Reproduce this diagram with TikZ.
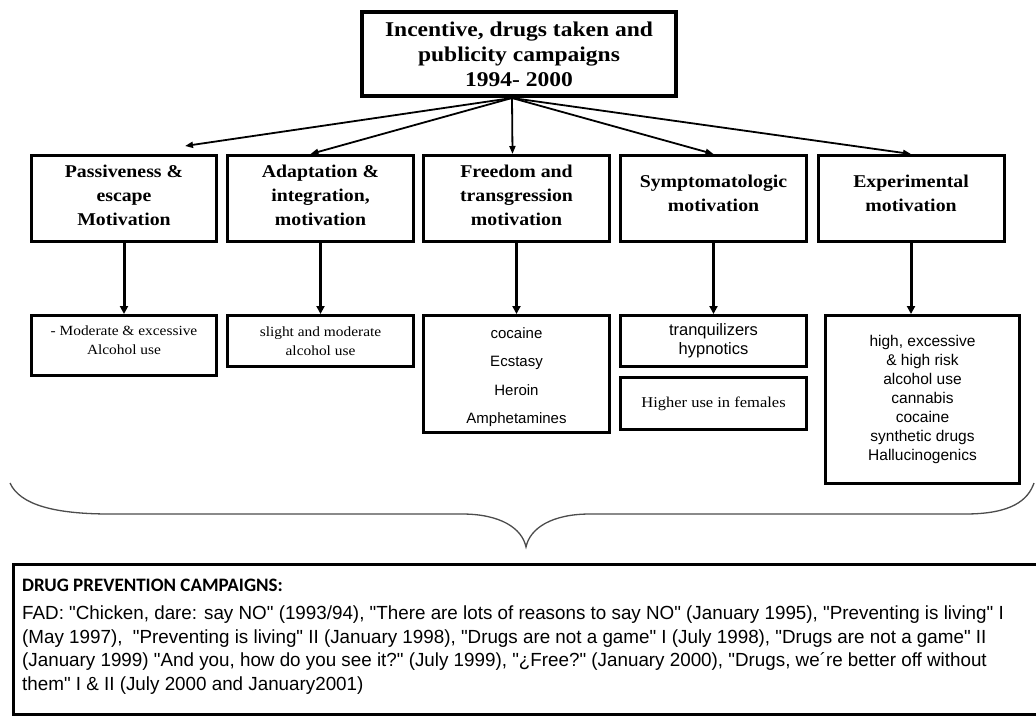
\documentclass[tikz,border=0pt]{standalone}
\usepackage{fontspec}
\setmainfont{Liberation Serif}
\newfontfamily\titlefont{Liberation Serif}[FakeStretch=1.12]
\newfontfamily\motfont{Liberation Serif}[FakeStretch=1.1]
\newfontfamily\subserif{Liberation Serif}[FakeStretch=1.1]
\newfontfamily\subsans{Liberation Sans}
\newfontfamily\headfont{Carlito}
\newfontfamily\bodyfont{Liberation Sans}[FakeStretch=0.99]
\usetikzlibrary{arrows.meta,calc}
\begin{document}
\begin{tikzpicture}[x=1pt,y=-1pt,
  box/.style={draw, line width=3pt, inner sep=0pt, align=center},
  mot/.style={box, minimum width=186pt, minimum height=86pt,
    font={\motfont\bfseries\fontsize{18}{24}\selectfont}},
  subbox/.style={box, minimum width=186pt},
  serifsub/.style={font={\subserif\fontsize{14}{18.5}\selectfont}},
  conn/.style={line width=3pt, -{Triangle[length=8pt,width=8pt]}},
  fan/.style={line width=1.8pt, -{Triangle[length=8pt,width=6pt]}},
]
\useasboundingbox (0,0) rectangle (1036,715);
\fill[white] (0,0) rectangle (1036,715);

% top box
\node[box, line width=4pt, minimum width=314pt, minimum height=84pt,
  font={\titlefont\bfseries\fontsize{21}{25}\selectfont}] (top) at (519,54)
  {Incentive, drugs taken and\\ publicity campaigns\\ 1994- 2000};
\coordinate (o) at (512,98);

% motivation boxes
\node[mot, minimum width=185pt] (m1) at (124,198.5) {Passiveness \&\\ escape\\ Motivation\\[-17pt]\mbox{}};
\node[mot] (m2) at (320.5,198.5) {Adaptation \&\\ integration,\\ motivation\\[-17pt]\mbox{}};
\node[mot] (m3) at (516.5,198.5) {Freedom and\\ transgression\\ motivation\\[-17pt]\mbox{}};
\node[mot] (m4) at (713.5,198.5) {Symptomatologic\\ motivation\\[-14pt]\mbox{}};
\node[mot] (m5) at (911,198.5) {Experimental\\ motivation\\[-14pt]\mbox{}};

% fan arrows
\coordinate (t1) at (185,146);
\draw[fan] (o) -- (t1);
\draw[fan] (o) -- ($(m2.north)+(-10,0)$);
\draw[fan] (o) -- ($(m3.north)+(-4,0)$);
\draw[fan] (o) -- (m4.north);
\draw[fan] (o) -- (m5.north);

% sub boxes
\node[subbox, serifsub, minimum width=185pt, minimum height=60pt] (a1) at (124,345.5)
  {- Moderate \& excessive\\ Alcohol use\\[-8pt]\mbox{}};
\node[subbox, serifsub, minimum height=51pt] (a2) at (320.5,341)
  {slight and moderate\\ alcohol use};
\node[subbox, minimum height=117pt, font={\subsans\fontsize{15}{28.3}\selectfont}] (a3) at (516.5,374)
  {\rule{0pt}{17pt}cocaine\\ Ecstasy\\ Heroin\\ Amphetamines};
\node[subbox, minimum height=51pt, font={\subsans\fontsize{16.5}{19}\selectfont}] (a4) at (713.5,341)
  {tranquilizers\\ hypnotics};
\node[subbox, minimum height=52pt, font={\subserif\fontsize{15}{18.5}\selectfont}] (a4b) at (713.5,403.5)
  {Higher use in females};
\node[subbox, minimum width=194pt, minimum height=168pt, font={\subsans\fontsize{15.5}{19}\selectfont}] (a5) at (922.5,399.5)
  {high, excessive\\ \& high risk\\ alcohol use\\ cannabis\\ cocaine\\ synthetic drugs\\ Hallucinogenics};

% vertical connectors
\draw[conn] (m1.south) -- (m1.south |- a1.north);
\draw[conn] (m2.south) -- (m2.south |- a2.north);
\draw[conn] (m3.south) -- (m3.south |- a3.north);
\draw[conn] (m4.south) -- (m4.south |- a4.north);
\draw[conn] (m5.south) -- (m5.south |- a5.north);

% brace
\draw[line width=1.3pt, black!70] (10,483) .. controls (20,505) and (55,514) .. (110,514)
  -- (462,514) .. controls (500,514) and (522,528) .. (526,547)
  .. controls (530,528) and (552,514) .. (590,514)
  -- (965,514) .. controls (1012,514) and (1028,500) .. (1034,483);

% campaigns box
\node[draw, line width=2.5pt, minimum width=1040pt, minimum height=150pt,
  anchor=north west, inner sep=0pt] (camp) at (12,563) {};
\node[anchor=base west, inner sep=0pt,
  font={\headfont\bfseries\fontsize{19}{22}\selectfont}] (camphead) at (22,591)
  {DRUG PREVENTION CAMPAIGNS:};
\node[anchor=north west, inner sep=0pt, align=left,
  font={\bodyfont\fontsize{19}{23.5}\selectfont}] (campbody) at (22,606)
  {FAD: "Chicken, dare: say NO" (1993/94), "There are lots of reasons to say NO" (January 1995), "Preventing is living" I\\
  (May 1997),\ \ "Preventing is living" II (January 1998), "Drugs are not a game" I (July 1998), "Drugs are not a game" II\\
  (January 1999) "And you, how do you see it?" (July 1999), "¿Free?" (January 2000), "Drugs, we´re better off without\\
  them" I \& II (July 2000 and January2001)};
\end{tikzpicture}
\end{document}
